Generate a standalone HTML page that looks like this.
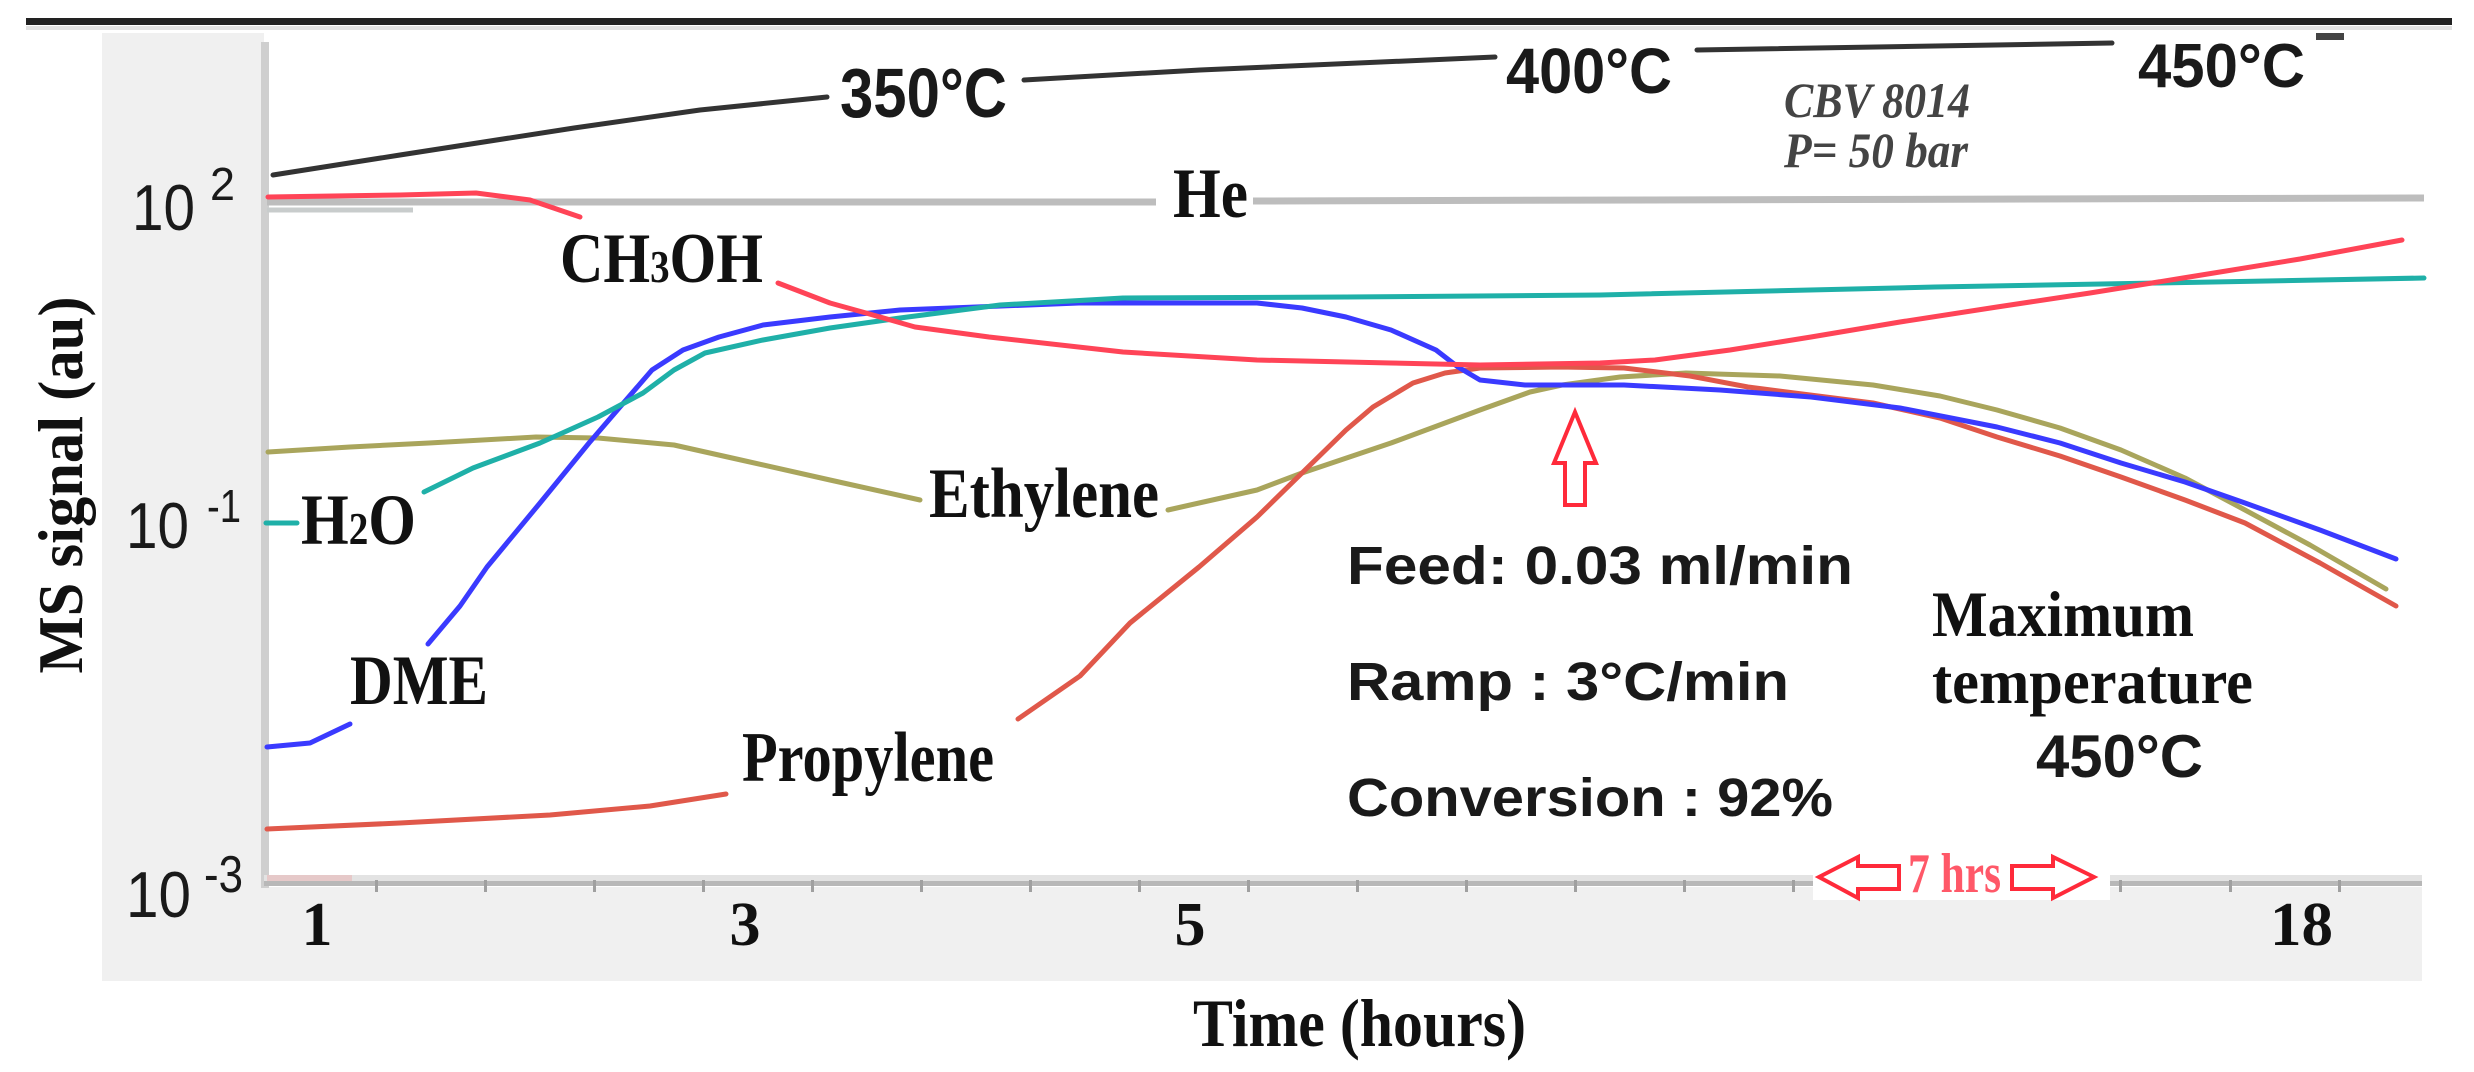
<!DOCTYPE html>
<html>
<head>
<meta charset="utf-8">
<style>
  html,body{margin:0;padding:0;background:#fff;}
  svg{display:block;}
  .tb{font-family:"Liberation Serif",serif;font-weight:bold;fill:#111;}
  .sb{font-family:"Liberation Sans",sans-serif;font-weight:bold;fill:#1a1a1a;}
  .sr{font-family:"Liberation Sans",sans-serif;fill:#1a1a1a;}
</style>
</head>
<body>
<svg width="2474" height="1072" viewBox="0 0 2474 1072" xmlns="http://www.w3.org/2000/svg">
  <rect x="0" y="0" width="2474" height="1072" fill="#ffffff"/>
  <!-- top bar -->
  <rect x="26" y="18" width="2426" height="7" fill="#222"/>
  <rect x="26" y="26" width="2426" height="4" fill="#e2e2e2"/>

  <!-- gray panels -->
  <rect x="102" y="33" width="162" height="948" fill="#f0f0f0"/>
  <rect x="102" y="887" width="2320" height="94" fill="#f0f0f0"/>

  <!-- y axis line -->
  <rect x="261" y="42" width="8" height="846" fill="#cfcfcf"/>
  <!-- x axis -->
  <rect x="264" y="875" width="2158" height="7" fill="#e3e3e3"/>
  <rect x="264" y="881" width="2158" height="5" fill="#b8b8b8"/>
  <g fill="#a0a0a0">
    <rect x="375" y="880" width="3" height="12"/><rect x="484" y="880" width="3" height="12"/>
    <rect x="593" y="880" width="3" height="12"/><rect x="702" y="880" width="3" height="12"/>
    <rect x="811" y="880" width="3" height="12"/><rect x="920" y="880" width="3" height="12"/>
    <rect x="1029" y="880" width="3" height="12"/><rect x="1138" y="880" width="3" height="12"/>
    <rect x="1247" y="880" width="3" height="12"/><rect x="1356" y="880" width="3" height="12"/>
    <rect x="1465" y="880" width="3" height="12"/><rect x="1574" y="880" width="3" height="12"/>
    <rect x="1683" y="880" width="3" height="12"/><rect x="1792" y="880" width="3" height="12"/>
    <rect x="2119" y="880" width="3" height="12"/><rect x="2229" y="880" width="3" height="12"/>
    <rect x="2338" y="880" width="3" height="12"/>
  </g>
  <rect x="267" y="875" width="85" height="6" fill="#e8b8b8" opacity="0.6"/>

  <!-- y tick labels -->
  <text class="sr" x="132" y="230" font-size="65" textLength="63" lengthAdjust="spacingAndGlyphs">10</text>
  <text class="sr" x="210" y="200" font-size="46" textLength="25" lengthAdjust="spacingAndGlyphs">2</text>
  <text class="sr" x="126" y="548" font-size="65" textLength="63" lengthAdjust="spacingAndGlyphs">10</text>
  <text class="sr" x="207" y="522" font-size="46" textLength="34" lengthAdjust="spacingAndGlyphs">-1</text>
  <text class="sr" x="126" y="917" font-size="65" textLength="65" lengthAdjust="spacingAndGlyphs">10</text>
  <text class="sr" x="204" y="892" font-size="52" textLength="39" lengthAdjust="spacingAndGlyphs">-3</text>

  <!-- x tick labels -->
  <text class="tb" x="317" y="945" font-size="62" text-anchor="middle">1</text>
  <text class="tb" x="745" y="945" font-size="62" text-anchor="middle">3</text>
  <text class="tb" x="1190" y="945" font-size="62" text-anchor="middle">5</text>
  <text class="tb" x="2270" y="945" font-size="62" textLength="63" lengthAdjust="spacingAndGlyphs">18</text>

  <!-- axis titles -->
  <text class="tb" x="1193" y="1046" font-size="68" textLength="333" lengthAdjust="spacingAndGlyphs">Time (hours)</text>
  <text class="tb" transform="translate(82,485) rotate(-90)" x="0" y="0" font-size="64" text-anchor="middle" textLength="377" lengthAdjust="spacingAndGlyphs">MS signal (au)</text>

  <!-- temperature line -->
  <g fill="none" stroke="#333" stroke-width="5" stroke-linecap="round" stroke-linejoin="round">
    <polyline points="273,175 400,155 574,128 700,110 827,97"/>
    <polyline points="1024,80 1200,70 1495,57"/>
    <polyline points="1697,50 2112,43"/>
  </g>
  <rect x="2316" y="33" width="28" height="7" fill="#444"/>
  <text class="sb" x="840" y="117" font-size="70" textLength="167" lengthAdjust="spacingAndGlyphs">350°C</text>
  <text class="sb" x="1506" y="93" font-size="64" textLength="166" lengthAdjust="spacingAndGlyphs">400°C</text>
  <text class="sb" x="2138" y="87" font-size="62" textLength="167" lengthAdjust="spacingAndGlyphs">450°C</text>
  <text class="tb" x="1784" y="117" font-size="50" font-style="italic" fill="#444" style="fill:#444" textLength="186" lengthAdjust="spacingAndGlyphs">CBV 8014</text>
  <text class="tb" x="1784" y="167" font-size="50" font-style="italic" style="fill:#444" textLength="184" lengthAdjust="spacingAndGlyphs">P= 50 bar</text>

  <!-- He line -->
  <g stroke="#bdbdbd" stroke-width="7" fill="none">
    <line x1="267" y1="202" x2="1156" y2="202"/>
    <line x1="1253" y1="201" x2="2424" y2="198"/>
  </g>
  <line x1="267" y1="210" x2="413" y2="210" stroke="#c8cccc" stroke-width="5"/>
  <text class="tb" x="1173" y="217" font-size="71" textLength="75" lengthAdjust="spacingAndGlyphs">He</text>

  <!-- curves -->
  <g fill="none" stroke-width="5" stroke-linecap="round" stroke-linejoin="round">
    <!-- Ethylene olive -->
    <polyline stroke="#a9a55c" points="268,452 350,447 429,443 536,437 598,438 674,445 741,460 830,480 920,500"/>
    <polyline stroke="#a9a55c" points="1168,510 1257,490 1302,473 1391,443 1480,410 1530,392 1562,385 1620,377 1686,373 1780,376 1873,385 1940,396 1997,410 2060,428 2121,450 2185,478 2245,510 2310,545 2386,589"/>
    <!-- Propylene red -->
    <polyline stroke="#e0584a" points="267,829 400,823 550,815 650,806 726,794"/>
    <polyline stroke="#e0584a" points="1018,719 1080,676 1130,623 1199,567 1257,517 1302,473 1346,430 1373,407 1413,383 1445,373 1480,368 1560,367 1624,368 1690,376 1748,387 1873,403 1940,418 1997,437 2060,456 2121,477 2185,500 2245,523 2320,563 2396,606"/>
    <!-- DME blue -->
    <polyline stroke="#3a3aff" points="267,747 310,743 350,724"/>
    <polyline stroke="#3a3aff" points="428,644 460,606 487,567 540,503 589,443 620,407 652,370 683,350 719,337 763,325 830,317 900,310 1079,303 1257,303 1302,308 1346,317 1391,330 1436,350 1458,367 1480,380 1525,385 1624,385 1720,390 1811,397 1900,408 1997,427 2060,443 2121,463 2185,482 2245,503 2320,530 2396,559"/>
    <!-- H2O teal -->
    <polyline stroke="#1fb0a8" points="266,523 297,523"/>
    <polyline stroke="#1fb0a8" points="424,492 473,468 540,443 598,417 643,393 674,370 705,353 763,340 830,328 900,318 1000,305 1123,298 1346,297 1600,295 1935,287 2157,283 2424,278"/>
    <!-- CH3OH red -->
    <polyline stroke="#ff4457" points="268,197 400,195 476,193 530,200 580,217"/>
    <polyline stroke="#ff4457" points="778,283 830,303 866,313 915,327 989,337 1123,352 1257,360 1391,363 1480,365 1600,363 1655,360 1730,350 1811,337 1900,322 1997,307 2090,293 2183,278 2300,259 2402,240"/>
  </g>

  <!-- species labels -->
  <text class="tb" x="560" y="282" font-size="71" textLength="203" lengthAdjust="spacingAndGlyphs">CH<tspan font-size="46">3</tspan>OH</text>
  <text class="tb" x="301" y="544" font-size="72" textLength="115" lengthAdjust="spacingAndGlyphs">H<tspan font-size="46">2</tspan>O</text>
  <text class="tb" x="350" y="704" font-size="71" textLength="138" lengthAdjust="spacingAndGlyphs">DME</text>
  <text class="tb" x="929" y="517" font-size="71" textLength="230" lengthAdjust="spacingAndGlyphs">Ethylene</text>
  <text class="tb" x="742" y="781" font-size="71" textLength="252" lengthAdjust="spacingAndGlyphs">Propylene</text>

  <!-- up arrow -->
  <polygon points="1575,412 1596,463 1585,463 1585,505 1565,505 1565,463 1554,463" fill="#fff" stroke="#ff2a3a" stroke-width="4" stroke-linejoin="miter"/>

  <!-- conditions -->
  <text class="sb" x="1347" y="584" font-size="54" textLength="506" lengthAdjust="spacingAndGlyphs">Feed: 0.03 ml/min</text>
  <text class="sb" x="1347" y="700" font-size="54" textLength="442" lengthAdjust="spacingAndGlyphs">Ramp : 3°C/min</text>
  <text class="sb" x="1347" y="816" font-size="54" textLength="486" lengthAdjust="spacingAndGlyphs">Conversion : 92%</text>

  <text class="tb" x="1932" y="636" font-size="65" textLength="262" lengthAdjust="spacingAndGlyphs">Maximum</text>
  <text class="tb" x="1932" y="703" font-size="64" textLength="321" lengthAdjust="spacingAndGlyphs">temperature</text>
  <text class="sb" x="2036" y="777" font-size="60" textLength="167" lengthAdjust="spacingAndGlyphs">450°C</text>

  <!-- 7 hrs annotation -->
  <rect x="1813" y="848" width="297" height="52" fill="#fff"/>
  <polygon points="1819,877 1858,857 1858,866 1899,866 1899,889 1858,889 1858,898" fill="#fff" stroke="#ff2a3a" stroke-width="4"/>
  <polygon points="2094,877 2053,857 2053,866 2012,866 2012,889 2053,889 2053,898" fill="#fff" stroke="#ff2a3a" stroke-width="4"/>
  <text class="tb" x="1908" y="892" font-size="56" style="fill:#ff5868" textLength="93" lengthAdjust="spacingAndGlyphs">7 hrs</text>
</svg>
</body>
</html>
